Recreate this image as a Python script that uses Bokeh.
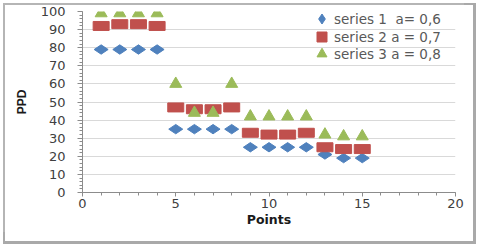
import numpy as np
from bokeh.plotting import figure
from bokeh.models import Range1d, Legend, LegendItem, SingleIntervalTicker, ColumnDataSource
from bokeh.embed import file_html
from bokeh.resources import INLINE

points = list(range(1, 16))
series1 = [79, 79, 79, 79, 35, 35, 35, 35, 25, 25, 25, 25, 21, 19, 19]
series2 = [92, 93, 93, 92, 47, 46, 46, 47, 33, 32, 32, 33, 25, 24, 24]
series3 = [99, 99, 99, 99, 60, 44, 44, 60, 42, 42, 42, 42, 32, 31, 31]
labels = ["series 1  a= 0,6", "series 2 a = 0,7", "series 3 a = 0,8"]

BLUE, RED, GREEN = "#4f81bd", "#c0504d", "#9bbb59"

src = ColumnDataSource(dict(x=points, s1=series1, s2=series2, s3=series3))

frame_css = {
    "box-shadow": ("7px 7px 0 2px white, 7.5px 7.5px 0 4.5px #a9a9a9, "
                   "inset 3px 3px 0 0 white, inset 5px 5px 0 0 #b5b5b5"),
}

p = figure(width=464, height=232, output_backend="svg", toolbar_location=None,
           x_range=Range1d(0, 20), y_range=Range1d(0, 100),
           min_border_left=82, min_border_right=9, min_border_top=11, min_border_bottom=40,
           styles=frame_css)
p.outline_line_color = None
p.background_fill_color = "white"
p.border_fill_alpha = 0

tick_font = "DejaVu Sans"
for ax in (p.xaxis[0], p.yaxis[0]):
    ax.axis_line_color = "#8c8c8c"
    ax.major_tick_line_color = "#8c8c8c"
    ax.minor_tick_line_color = "#8c8c8c"
    ax.major_label_text_font = tick_font
    ax.major_label_text_font_size = "13px"
    ax.major_label_text_color = "#404040"
    ax.axis_label_text_font_style = "bold"
    ax.axis_label_text_color = "#1a1a1a"
    ax.major_tick_in = 0
    ax.minor_tick_in = 0

p.xaxis.axis_label_text_font = "DejaVu Sans"
p.xaxis.axis_label_text_font_size = "12.5px"
p.yaxis.axis_label_text_font = "Liberation Sans"
p.yaxis.axis_label_text_font_size = "12px"

p.xaxis.ticker = SingleIntervalTicker(interval=5, num_minor_ticks=5)
p.yaxis.ticker = SingleIntervalTicker(interval=10, num_minor_ticks=5)
p.xaxis.major_tick_out = 4
p.xaxis.minor_tick_out = 3
p.yaxis.major_tick_out = 5
p.yaxis.minor_tick_out = 3
p.xaxis.axis_label = "Points"
p.yaxis.axis_label = "PPD"
p.xaxis.major_label_standoff = 2
p.yaxis.major_label_standoff = 12
p.xaxis.axis_label_standoff = 1
p.yaxis.axis_label_standoff = 9

p.xgrid.grid_line_color = None
p.ygrid.grid_line_color = "#d9d9d9"
p.ygrid.grid_line_width = 1

r1 = p.scatter("x", "s1", source=src, marker="diamond", angle=np.pi / 2, size=14,
               fill_color=BLUE, line_color=BLUE)
r2 = p.rect("x", "s2", source=src, width=16, height=9, width_units="screen", height_units="screen",
            fill_color=RED, line_color=RED)
r3 = p.scatter("x", "s3", source=src, marker="triangle", size=12,
               fill_color=GREEN, line_color=GREEN)
# zero-size square marker renderer used only for the legend key of series 2
r2_key = p.scatter("x", "s2", source=src, marker="square", size=0,
                   fill_color=RED, line_color=RED)

# one small legend per entry so that rows can sit closer than the key size
legend_rows = [(labels[0], r1, 161), (labels[1], r2_key, 143), (labels[2], r3, 126)]
for lab, rend, ybot in legend_rows:
    lg = Legend(items=[LegendItem(label=lab, renderers=[rend])], location=(227, ybot))
    lg.border_line_color = None
    lg.background_fill_alpha = 0
    lg.label_text_font = tick_font
    lg.label_text_font_size = "13.5px"
    lg.label_text_color = "#595959"
    lg.glyph_width = 25
    lg.glyph_height = 25
    lg.label_height = 14
    lg.spacing = 0
    lg.label_standoff = 0
    lg.margin = 0
    lg.padding = 0
    p.add_layout(lg)

open("out.html", "w").write(file_html(p, INLINE))
